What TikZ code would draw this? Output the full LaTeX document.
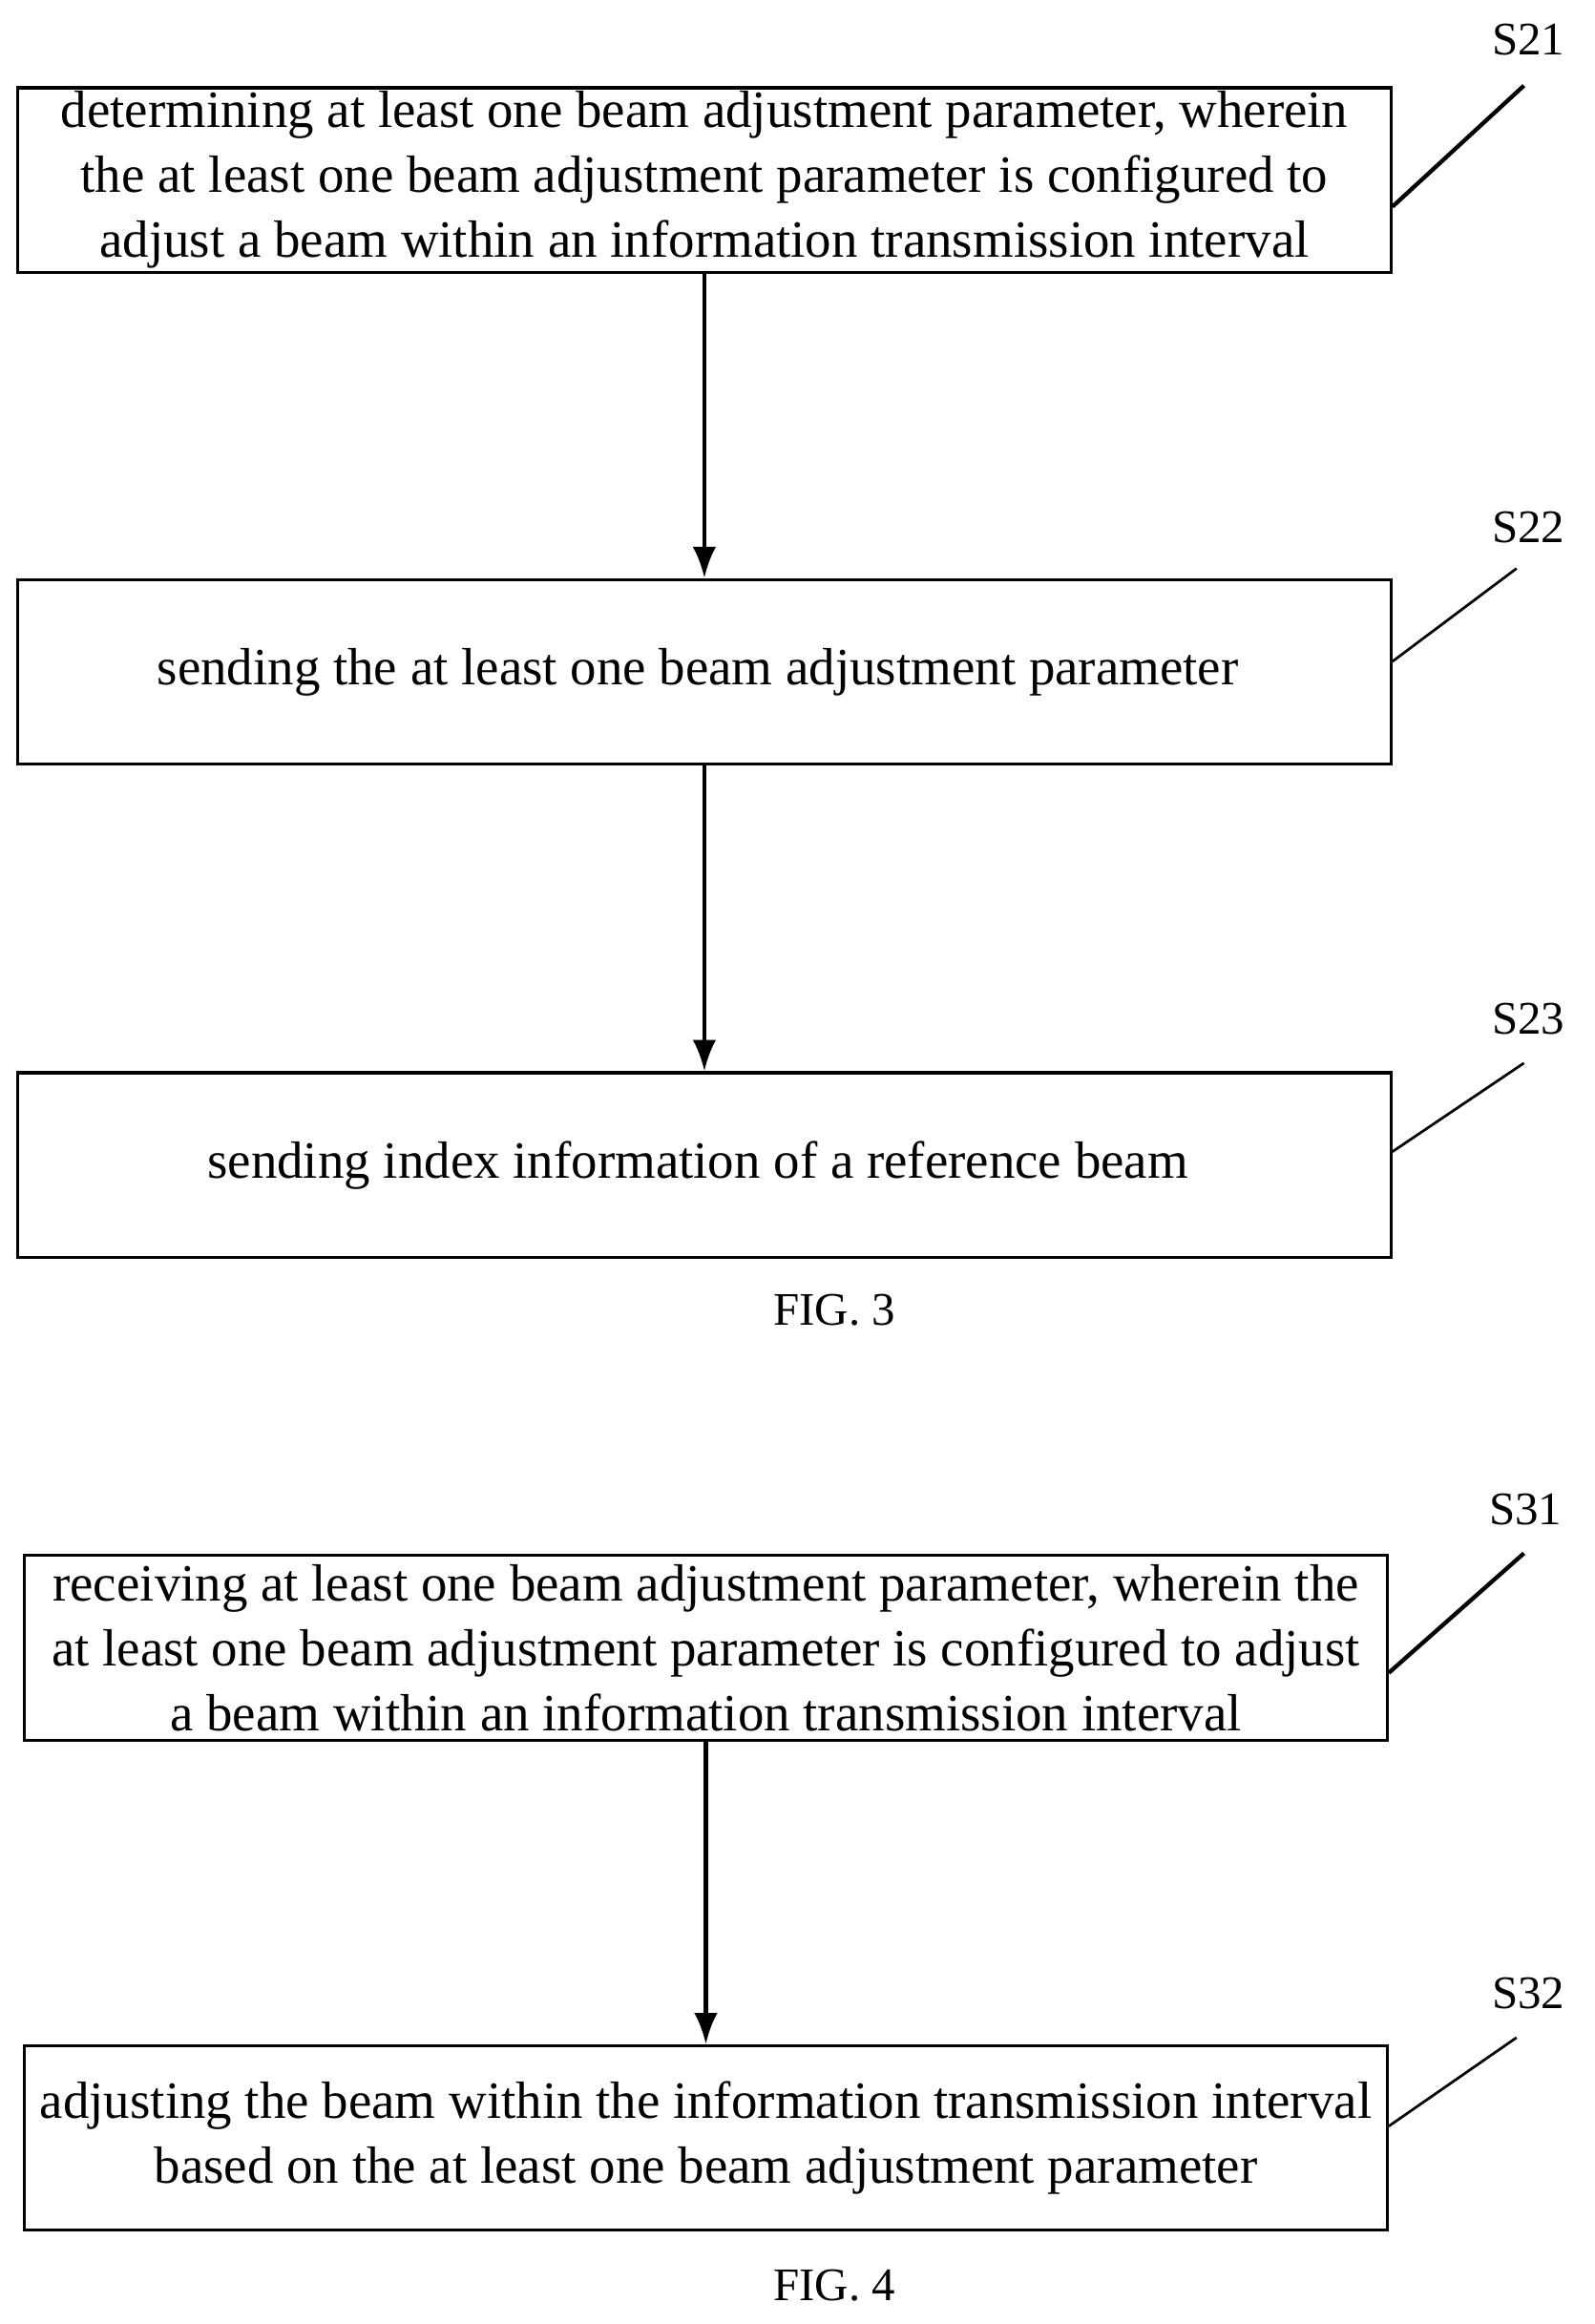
\documentclass[tikz,border=0pt]{standalone}
\usepackage{fontspec}
\setmainfont{Liberation Serif}
\usetikzlibrary{arrows.meta,positioning}

\begin{document}
\begin{tikzpicture}[x=0.02cm,y=-0.02cm,
    step_box/.style={
        rectangle,
        draw,
        line width=1.2pt,
        minimum width=18.6cm,
        minimum height=2.5cm,
        align=center,
        inner sep=0pt,
        font=\fontsize{20.2}{25}\selectfont
    },
    step_label/.style={font=\fontsize{18}{21}\selectfont},
    leader/.style={line width=1pt},
    flow/.style={-{Latex[length=12pt,width=9pt]}, line width=1.5pt}
]
    \useasboundingbox (0,0) rectangle (1080,1574);

    \node (determining_step) [step_box] at (477,122)
    {
        determining at least one beam adjustment parameter, wherein\\
        the at least one beam adjustment parameter is configured to\\
        adjust a beam within an information transmission interval
    };
    \node (sending_param_step) [step_box] at (477,455)
    {
        sending the at least one beam adjustment parameter
    };
    \node (sending_index_step) [step_box] at (477,789)
    {
        sending index information of a reference beam
    };
    \node (fig_three) [step_label] at (565,887) {FIG. 3};



    \node (receiving_step) [step_box, minimum width=18.46cm] at (478,1116)
    {
        receiving at least one beam adjustment parameter, wherein the\\
        at least one beam adjustment parameter is configured to adjust\\
        a beam within an information transmission interval
    };
    \node (adjusting_step) [step_box, minimum width=18.46cm] at (478,1448)
    {
        adjusting the beam within the information transmission interval\\
        based on the at least one beam adjustment parameter
    };
    \node (fig_four) [step_label] at (565,1548) {FIG. 4};



    \node (s21_label) [step_label] at (1035,27) {S21};
    \node (s22_label) [step_label] at (1035,357) {S22};
    \node (s23_label) [step_label] at (1035,690) {S23};
    \node (s31_label) [step_label] at (1033,1022) {S31};
    \node (s32_label) [step_label] at (1035,1350) {S32};

    \coordinate (s21_end) at (1032,58);
    \coordinate (s22_end) at (1027,385);
    \coordinate (s23_end) at (1032,720);
    \coordinate (s31_end) at (1032,1052);
    \coordinate (s32_end) at (1027,1380);



    \draw[leader, line width=1.6pt] (determining_step.east |- 0,140) to (s21_end);
    \draw[leader] (sending_param_step.east |- 0,448) to (s22_end);
    \draw[leader] (sending_index_step.east |- 0,780) to (s23_end);
    \draw[leader, line width=1.6pt] (receiving_step.east |- 0,1133) to (s31_end);
    \draw[leader] (adjusting_step.east |- 0,1440) to (s32_end);

    \draw[flow] (determining_step) to (sending_param_step);
    \draw[flow] (sending_param_step) to (sending_index_step);
    \draw[flow] (receiving_step) to (adjusting_step);


\end{tikzpicture}
\end{document}
